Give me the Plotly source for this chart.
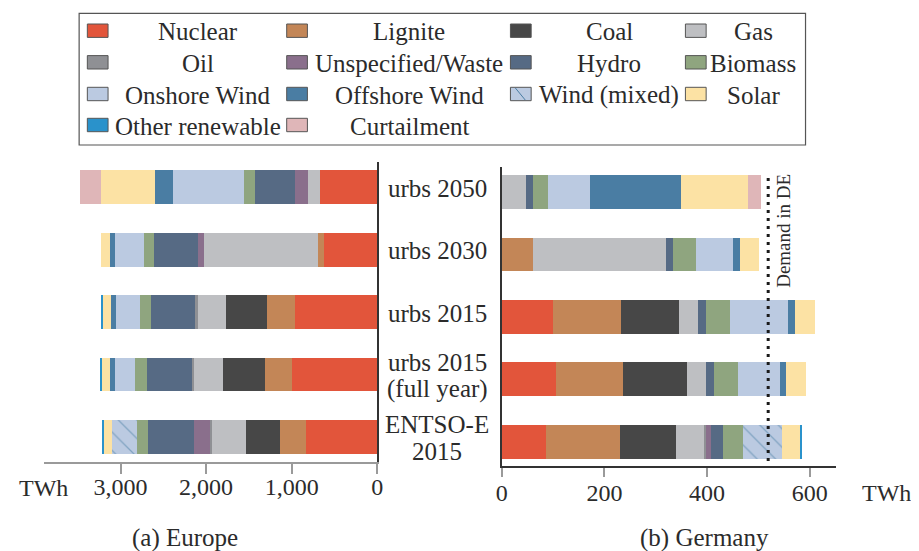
import plotly.graph_objects as go

# ---------------- data ----------------
scenarios = ["urbs 2050", "urbs 2030", "urbs 2015", "urbs 2015 (full year)", "ENTSO-E 2015"]
scenario_labels = ["urbs 2050", "urbs 2030", "urbs 2015", "urbs 2015<br>(full year)", "ENTSO-E<br>2015"]

technologies = ["Nuclear", "Lignite", "Coal", "Gas", "Oil", "Unspecified/Waste", "Hydro",
                "Biomass", "Onshore Wind", "Offshore Wind", "Wind (mixed)", "Solar",
                "Other renewable", "Curtailment"]
tech_colors = ["#E2553B", "#C38657", "#474747", "#BEBFC2", "#8F9094", "#8A6F8C", "#566A84",
               "#8FA57F", "#BBCAE1", "#4A7DA3", "#BBCAE1", "#FCE2A4", "#2A92CB", "#DFB6B8"]

# Europe (TWh), order of scenarios as above
eu_nuclear = [669, 627, 965, 996, 835]
eu_lignite = [0, 65, 327, 319, 296]
eu_coal = [0, 0, 473, 485, 408]
eu_gas = [142, 1331, 342, 338, 396]
eu_oil = [0, 0, 23, 31, 23]
eu_unspecified = [154, 73, 0, 0, 185]
eu_hydro = [469, 515, 512, 527, 535]
eu_biomass = [123, 115, 131, 135, 135]
eu_onshore = [831, 342, 285, 238, 0]
eu_offshore = [215, 50, 54, 50, 0]
eu_wind_mixed = [0, 0, 0, 0, 285]
eu_solar = [623, 112, 104, 100, 100]
eu_other = [0, 0, 15, 12, 23]
eu_curtailment = [246, 0, 0, 0, 0]

# Germany (TWh)
de_nuclear = [0, 0, 100, 106, 87]
de_lignite = [0, 60, 133, 130, 144]
de_coal = [0, 0, 113, 124, 108]
de_gas = [47, 259, 37, 37, 54]
de_oil = [0, 0, 0, 0, 5]
de_unspecified = [0, 0, 0, 0, 10]
de_hydro = [13, 15, 15, 17, 23]
de_biomass = [29, 44, 46, 46, 39]
de_onshore = [82, 73, 114, 82, 0]
de_offshore = [179, 13, 13, 11, 0]
de_wind_mixed = [0, 0, 0, 0, 76]
de_solar = [129, 38, 39, 39, 35]
de_other = [0, 0, 0, 0, 2]
de_curtailment = [26, 0, 0, 0, 0]

demand_de = 519  # TWh

eu_tick_vals = [0, 1000, 2000, 3000]
de_tick_vals = [0, 200, 400, 600]

europe = [eu_nuclear, eu_lignite, eu_coal, eu_gas, eu_oil, eu_unspecified, eu_hydro,
          eu_biomass, eu_onshore, eu_offshore, eu_wind_mixed, eu_solar, eu_other, eu_curtailment]
germany = [de_nuclear, de_lignite, de_coal, de_gas, de_oil, de_unspecified, de_hydro,
           de_biomass, de_onshore, de_offshore, de_wind_mixed, de_solar, de_other, de_curtailment]

# ---------------- layout helpers ----------------
W, H = 919, 551
OFF = 8  # page body margin offset
FONT = "Liberation Serif, Times New Roman, serif"
TXT = "#2b2b2b"


def px(x):
    return (x - OFF) / W


def py(y):
    return 1 - (y - OFF) / H


def note(x, y, text, size=25, **kw):
    d = dict(xref="paper", yref="paper", x=px(x), y=py(y), text=text, showarrow=False,
             xanchor="center", yanchor="middle", font=dict(size=size, color=TXT, family=FONT))
    d.update(kw)
    return d


fig = go.Figure()

for tech, col, eu_vals, de_vals in zip(technologies, tech_colors, europe, germany):
    marker = dict(color=col, line=dict(width=0))
    if tech == "Wind (mixed)":
        marker["pattern"] = dict(shape="\\", fgcolor="#4A7DA3", bgcolor=col, size=13, solidity=0.1)
    fig.add_trace(go.Bar(y=scenarios, x=eu_vals, orientation="h", name=tech, marker=marker,
                         width=0.54, xaxis="x", yaxis="y", showlegend=False))
    fig.add_trace(go.Bar(y=scenarios, x=de_vals, orientation="h", name=tech, marker=marker,
                         width=0.54, xaxis="x2", yaxis="y2", showlegend=False))

cat_order = scenarios[::-1]

fig.update_layout(
    width=W, height=H,
    margin=dict(l=0, r=0, t=0, b=0),
    paper_bgcolor="white", plot_bgcolor="white",
    barmode="stack",
    font=dict(family=FONT, size=24, color=TXT),
    xaxis=dict(domain=[px(38.3), px(376)], range=[3896, 0], anchor="y",
               showline=True, linecolor="#9a9a9a", linewidth=2, showgrid=False, zeroline=False,
               ticks="outside", ticklen=10, tickcolor="#9a9a9a", tickwidth=1.5,
               ticklabelstandoff=-8,
               tickvals=eu_tick_vals, tickformat=",d", tickfont=dict(size=24, color=TXT, family=FONT)),
    yaxis=dict(domain=[py(461.7), py(161.7)], anchor="x", side="right",
               type="category", categoryorder="array", categoryarray=cat_order,
               range=[-0.396, 4.41], showline=True, linecolor="#333333", linewidth=2,
               showticklabels=False, ticks="", showgrid=False, zeroline=False),
    xaxis2=dict(domain=[px(502.3), px(840.7)], range=[0, 650.8], anchor="y2",
                showline=True, linecolor="#333333", linewidth=1.5, showgrid=False, zeroline=False,
                ticks="outside", ticklen=9, tickcolor="#9a9a9a", tickwidth=1.5,
                ticklabelstandoff=-5,
                tickvals=de_tick_vals, tickfont=dict(size=24, color=TXT, family=FONT)),
    yaxis2=dict(domain=[py(466), py(167)], anchor="x2", side="left",
                type="category", categoryorder="array", categoryarray=cat_order,
                range=[-0.39, 4.40], showline=True, linecolor="#333333", linewidth=1.5,
                showticklabels=False, ticks="", showgrid=False, zeroline=False),
)

shapes = []
annotations = []

# demand line in Germany
shapes.append(dict(type="line", xref="x2", yref="y2 domain", x0=demand_de, x1=demand_de,
                   y0=0.017, y1=0.98, line=dict(color="#1a1a1a", width=3, dash="3px,5px")))
annotations.append(note(787, 231, "Demand in DE", size=19, textangle=-90))

# scenario labels between the panels (line spacing like LaTeX)
for s, lab in zip(scenarios, scenario_labels):
    lines = lab.split("<br>")
    n = len(lines)
    for j, line in enumerate(lines):
        annotations.append(dict(xref="paper", yref="y", x=px(437), y=s, text=line, showarrow=False,
                                xanchor="center", yanchor="middle",
                                yshift=-1 + ((n - 1) / 2 - j) * 27,
                                font=dict(size=25, color=TXT, family=FONT)))

# axis unit labels and panel captions
annotations.append(note(37.5, 488, "TWh", size=24))
annotations.append(note(891.7, 493, "TWh", size=24))
annotations.append(note(181.3, 538, "(a) Europe"))
annotations.append(note(707.5, 538, "(b) Germany"))

# ---------------- legend (drawn manually, LaTeX-style centred entries) ----------------
shapes.append(dict(type="rect", xref="paper", yref="paper", x0=px(74), x1=px(810),
                   y0=py(145), y1=py(13.3), line=dict(color="#555555", width=1.2),
                   fillcolor="rgba(0,0,0,0)"))
leg_patch_x = [82.3, 284.3, 511, 688.3]
leg_text_cx = [194.3, 408.7, 611, 757]
leg_row_y = [30.7, 62.3, 94, 125]
for i, (tech, col) in enumerate(zip(technologies, tech_colors)):
    r, c = divmod(i, 4)
    x0 = leg_patch_x[c]
    yc = leg_row_y[r]
    shapes.append(dict(type="rect", xref="paper", yref="paper", x0=px(x0), x1=px(x0 + 21),
                       y0=py(yc + 6.7), y1=py(yc - 6.7), fillcolor=col,
                       line=dict(color="#555555", width=1)))
    if tech == "Wind (mixed)":
        shapes.append(dict(type="line", xref="paper", yref="paper", x0=px(x0 + 5), x1=px(x0 + 15),
                           y0=py(yc - 6), y1=py(yc + 6), line=dict(color="#4A7DA3", width=1)))
    annotations.append(note(leg_text_cx[c], yc + 1, tech))

fig.update_layout(shapes=shapes, annotations=annotations)

fig.write_html("out.html")
